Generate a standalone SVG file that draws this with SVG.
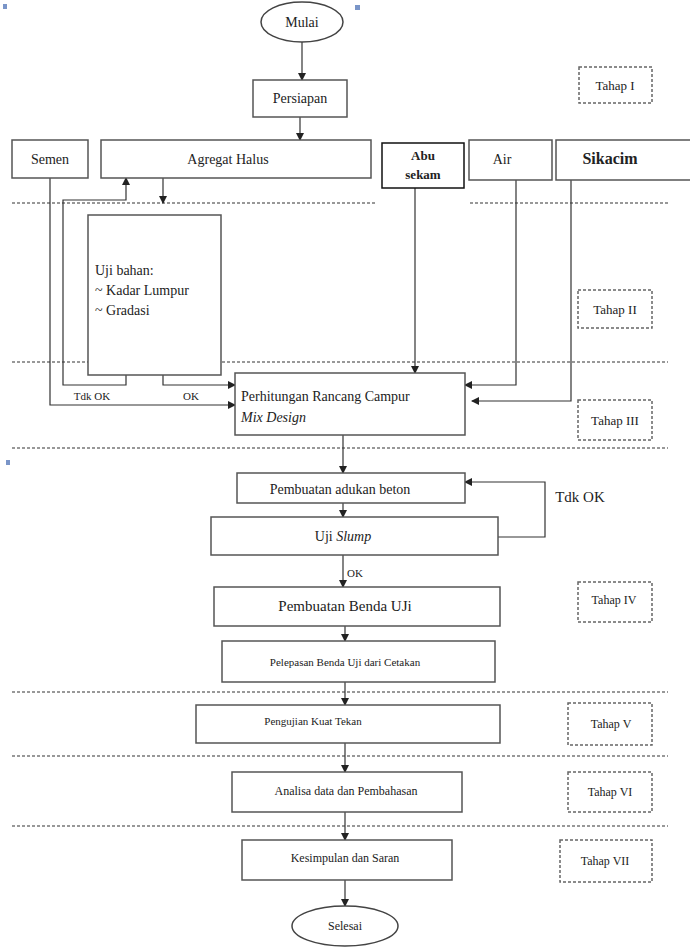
<svg xmlns="http://www.w3.org/2000/svg" width="690" height="950" viewBox="0 0 690 950" font-family="'Liberation Serif', 'DejaVu Serif', 'Times New Roman', serif">
<style>
text{font-family:'Liberation Serif','DejaVu Serif','Times New Roman',serif;fill:#222}
.box{fill:#fff;stroke:#555;stroke-width:1.5}
.tahap{fill:#fff;stroke:#666;stroke-width:1.5;stroke-dasharray:3 2}
.sep{stroke:#777;stroke-width:1.5;stroke-dasharray:3 2;fill:none}
.arr{stroke:#333;stroke-width:1.2;fill:none;marker-end:url(#ah)}
</style>
<defs>
<marker id="ah" markerWidth="8" markerHeight="8" refX="7" refY="4" orient="auto" markerUnits="userSpaceOnUse">
<path d="M0,0 L8,4 L0,8 Z" fill="#222"/>
</marker>
</defs>
<rect width="690" height="950" fill="#fff"/>
<rect x="3" y="4" width="4" height="5" fill="#7a95c8"/>
<rect x="355" y="5" width="5" height="5" fill="#7a95c8"/>
<rect x="6" y="460" width="4" height="5" fill="#7a95c8"/>

<g id="separators">
<line class="sep" x1="12" y1="203" x2="375" y2="203"/>
<line class="sep" x1="470" y1="203" x2="668" y2="203"/>
<line class="sep" x1="12" y1="362" x2="668" y2="362"/>
<line class="sep" x1="12" y1="448" x2="668" y2="448"/>
<line class="sep" x1="12" y1="692" x2="668" y2="692"/>
<line class="sep" x1="12" y1="756" x2="668" y2="756"/>
<line class="sep" x1="12" y1="826" x2="668" y2="826"/>
</g>

<g id="connectors">
<path class="arr" d="M302,42 L302,80"/>
<path class="arr" d="M300,117 L300,140"/>
<path class="arr" d="M163,178 L163,203"/>
<path class="arr" d="M126,375 L126,385 L63,385 L63,200 L126,200 L126,178"/>
<path class="arr" d="M163,375 L163,385 L235,385"/>
<path class="arr" d="M50,178 L50,405 L235,405"/>
<path class="arr" d="M415,188 L415,373"/>
<path class="arr" d="M516,180 L516,385 L465,385"/>
<path class="arr" d="M571,180 L571,401 L472,401"/>
<path class="arr" d="M343,435 L343,473"/>
<path class="arr" d="M343,503 L343,517"/>
<path class="arr" d="M498,537 L545,537 L545,482 L465,482"/>
<path class="arr" d="M343,555 L343,587"/>
<path class="arr" d="M345,626 L345,641"/>
<path class="arr" d="M345,682 L345,705"/>
<path class="arr" d="M345,743 L345,772"/>
<path class="arr" d="M345,812 L345,840"/>
<path class="arr" d="M345,880 L345,906"/>
<text x="92" y="400" font-size="11" text-anchor="middle">Tdk OK</text>
<text x="191" y="400" font-size="11" text-anchor="middle">OK</text>
<text x="580" y="502" font-size="15" text-anchor="middle">Tdk OK</text>
<text x="347" y="577" font-size="11">OK</text>
</g>

<g id="mulai">
<ellipse cx="302" cy="22" rx="41" ry="20" fill="#fff" stroke="#444" stroke-width="1.5"/>
<text x="302" y="27" font-size="14" text-anchor="middle">Mulai</text>
</g>
<g id="persiapan">
<rect class="box" x="253" y="80" width="94" height="37"/>
<text x="300" y="103" font-size="14" text-anchor="middle">Persiapan</text>
</g>
<g id="tahap1">
<rect class="tahap" x="579" y="67" width="73" height="36"/>
<text x="615" y="90" font-size="13" text-anchor="middle">Tahap I</text>
</g>
<g id="semen">
<rect class="box" x="12" y="140" width="76" height="38"/>
<text x="50" y="164" font-size="14" text-anchor="middle">Semen</text>
</g>
<g id="agregat">
<rect class="box" x="101" y="140" width="270" height="38"/>
<text x="228" y="164" font-size="14" text-anchor="middle">Agregat Halus</text>
</g>
<g id="abusekam">
<rect x="382" y="143" width="82" height="45" fill="#fff" stroke="#111" stroke-width="1.5"/>
<text x="423" y="160" font-size="13" font-weight="bold" text-anchor="middle">Abu</text>
<text x="423" y="179" font-size="13" font-weight="bold" text-anchor="middle">sekam</text>
</g>
<g id="air">
<rect class="box" x="469" y="140" width="83" height="40"/>
<text x="502" y="164" font-size="14" text-anchor="middle">Air</text>
</g>
<g id="sikacim">
<rect class="box" x="556" y="140" width="140" height="40"/>
<text x="610" y="164" font-size="16" font-weight="bold" text-anchor="middle">Sikacim</text>
</g>
<g id="ujibahan">
<rect class="box" x="88" y="215" width="133" height="160"/>
<text x="95" y="275" font-size="14">Uji bahan:</text>
<text x="95" y="295" font-size="14">~ Kadar Lumpur</text>
<text x="95" y="315" font-size="14">~ Gradasi</text>
</g>
<g id="tahap2">
<rect class="tahap" x="578" y="290" width="74" height="38"/>
<text x="615" y="314" font-size="13" text-anchor="middle">Tahap II</text>
</g>
<g id="perhitungan">
<rect class="box" x="235" y="373" width="230" height="62"/>
<text x="241" y="401" font-size="14">Perhitungan Rancang Campur</text>
<text x="241" y="422" font-size="14" font-style="italic">Mix Design</text>
</g>
<g id="tahap3">
<rect class="tahap" x="578" y="400" width="74" height="40"/>
<text x="615" y="425" font-size="13" text-anchor="middle">Tahap III</text>
</g>
<g id="adukan">
<rect class="box" x="237" y="473" width="228" height="30"/>
<text x="340" y="494" font-size="14" text-anchor="middle">Pembuatan adukan beton</text>
</g>
<g id="slump">
<rect class="box" x="211" y="517" width="287" height="38"/>
<text x="343" y="541" font-size="14" text-anchor="middle">Uji <tspan font-style="italic">Slump</tspan></text>
</g>
<g id="bendauji">
<rect class="box" x="214" y="587" width="286" height="39"/>
<text x="345" y="611" font-size="15" text-anchor="middle">Pembuatan Benda UJi</text>
</g>
<g id="tahap4">
<rect class="tahap" x="578" y="582" width="74" height="40"/>
<text x="614" y="604" font-size="12" text-anchor="middle">Tahap IV</text>
</g>
<g id="pelepasan">
<rect class="box" x="222" y="641" width="273" height="41"/>
<text x="345" y="666" font-size="11" text-anchor="middle">Pelepasan Benda Uji dari Cetakan</text>
</g>
<g id="pengujian">
<rect class="box" x="196" y="705" width="304" height="38"/>
<text x="313" y="725" font-size="11" text-anchor="middle">Pengujian Kuat Tekan</text>
</g>
<g id="tahap5">
<rect class="tahap" x="568" y="703" width="84" height="42"/>
<text x="611" y="728" font-size="12" text-anchor="middle">Tahap V</text>
</g>
<g id="analisa">
<rect class="box" x="232" y="772" width="230" height="40"/>
<text x="346" y="795" font-size="12" text-anchor="middle">Analisa data dan Pembahasan</text>
</g>
<g id="tahap6">
<rect class="tahap" x="568" y="772" width="84" height="40"/>
<text x="610" y="796" font-size="12" text-anchor="middle">Tahap VI</text>
</g>
<g id="kesimpulan">
<rect class="box" x="242" y="840" width="210" height="40"/>
<text x="345" y="862" font-size="12" text-anchor="middle">Kesimpulan dan Saran</text>
</g>
<g id="tahap7">
<rect class="tahap" x="560" y="840" width="92" height="42"/>
<text x="605" y="865" font-size="12" text-anchor="middle">Tahap VII</text>
</g>
<g id="selesai">
<ellipse cx="345" cy="926" rx="53" ry="20" fill="#fff" stroke="#444" stroke-width="1.5"/>
<text x="345" y="930" font-size="12" text-anchor="middle">Selesai</text>
</g>
</svg>
